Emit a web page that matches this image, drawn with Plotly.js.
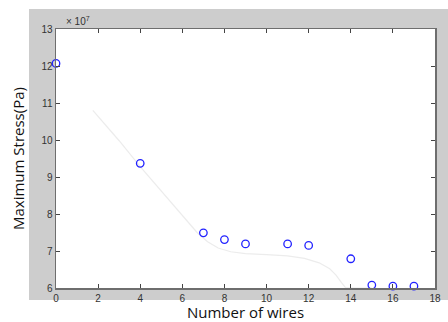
<!DOCTYPE html>
<html>
<head>
<meta charset="utf-8">
<script src="https://cdn.plot.ly/plotly-3.0.1.min.js"></script>
<style>html,body{margin:0;padding:0;background:#fff;}#chart{width:448px;height:322px;}</style>
</head>
<body>
<div id="chart"></div>
<script>
// Data (stress values in units of 1e7 Pa)
const wires = [0, 4, 7, 8, 9, 11, 12, 14, 15, 16, 17];
const stress = [12.07, 9.37, 7.49, 7.31, 7.19, 7.19, 7.15, 6.79, 6.08, 6.05, 6.05];
// faint fitted curve
const fitX = [1.75, 3, 4, 5, 6, 6.7, 7.2, 7.7, 8.3, 9, 10, 11, 11.8, 12.5, 13, 13.3, 13.55, 13.75, 14.2, 15];
const fitY = [10.8, 9.98, 9.28, 8.62, 7.98, 7.5, 7.25, 7.08, 6.98, 6.93, 6.9, 6.87, 6.8, 6.68, 6.52, 6.35, 6.15, 6.01, 6.0, 6.0];
const xTicks = [0, 2, 4, 6, 8, 10, 12, 14, 16, 18];
const yTicks = [6, 7, 8, 9, 10, 11, 12, 13];

const traces = [
  {x: fitX, y: fitY, type: 'scatter', mode: 'lines', line: {color: '#ececec', width: 1.2, shape: 'linear'}, hoverinfo: 'skip'},
  {x: wires, y: stress, type: 'scatter', mode: 'markers', cliponaxis: false,
   marker: {symbol: 'circle-open', size: 7.5, color: '#2222ff', line: {width: 1.3, color: '#2222ff'}}}
];

const axisCommon = {
  showgrid: false, zeroline: false, showline: true, linecolor: '#6e6e6e', linewidth: 1.5,
  mirror: 'ticks', ticks: 'inside', ticklen: 4, tickcolor: '#444', tickwidth: 1,
  tickfont: {family: 'Liberation Sans, Arial, sans-serif', size: 10, color: '#333'}
};

const layout = {
  width: 448, height: 322,
  margin: {l: 56, r: 13, t: 29, b: 34, pad: 0},
  paper_bgcolor: '#ffffff', plot_bgcolor: '#ffffff',
  showlegend: false,
  xaxis: Object.assign({}, axisCommon, {
    range: [0, 18], tickvals: xTicks, ticktext: xTicks.map(String),
    title: {text: 'Number of wires', standoff: 11, font: {family: 'Open Sans, sans-serif', size: 15, color: '#111'}}
  }),
  yaxis: Object.assign({}, axisCommon, {
    range: [6, 13], tickvals: yTicks, ticktext: yTicks.map(String),
    title: {text: 'Maximum Stress(Pa)', standoff: 13, font: {family: 'Open Sans, sans-serif', size: 15, color: '#111'}}
  }),
  shapes: [{
    type: 'rect', xref: 'paper', yref: 'paper', layer: 'below',
    x0: -0.0712, x1: 1.04, y0: -0.0463, y1: 1.0772,
    fillcolor: '#cdcdcd', line: {width: 0}
  }, {
    type: 'rect', xref: 'paper', yref: 'paper', layer: 'below',
    x0: 0, x1: 1, y0: 0, y1: 1,
    fillcolor: '#ffffff', line: {width: 0}
  }],
  annotations: [{
    xref: 'paper', yref: 'paper', x: 0.022, y: 1.0, xanchor: 'left', yanchor: 'bottom',
    text: '× 10<sup>7</sup>', showarrow: false,
    font: {family: 'Liberation Sans, Arial, sans-serif', size: 10, color: '#333'}
  }]
};

Plotly.newPlot('chart', traces, layout, {staticPlot: true, displayModeBar: false});
</script>
</body>
</html>
